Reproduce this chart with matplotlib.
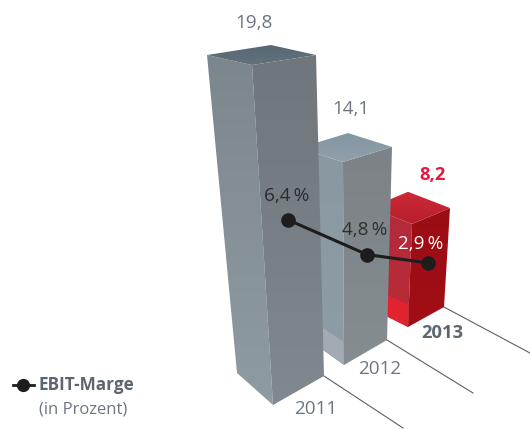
import numpy as np
import matplotlib
matplotlib.use("Agg")
import matplotlib.pyplot as plt
from matplotlib.colors import LinearSegmentedColormap
from matplotlib.patches import Polygon

# data
years = ["2011", "2012", "2013"]
umsatz = [19.8, 14.1, 8.2]
umsatz_labels = ["19,8", "14,1", "8,2"]
ebit_marge = [6.4, 4.8, 2.9]
ebit_labels = ["6,4\u2009%", "4,8\u2009%", "2,9\u2009%"]

# perspective geometry (pixel space): base corners and per-unit rise of each corner
base_left = [(237, 373), (305, 337), (368, 307)]
base_front = [(273, 405), (344, 365), (408, 327)]
base_right = [(324, 376), (387, 340), (444, 307)]
rise_left = [(-1.515, -16.06), (-0.426, -13.40), (0.244, -12.10)]
rise_front = [(-1.06, -17.17), (-0.071, -14.40), (0.488, -12.56)]
rise_right = [(-0.404, -16.21), (0.355, -13.69), (0.732, -12.07)]
line_base_y = [396.5, 352, 316]
line_unit = [27.6, 20.3, 18.3]
line_x = [288, 367, 428]

style = [
    dict(left=("#7c868d", "#8f9ba2"), right=("#6f767c", "#7f898f"), top=("#566673", "#63727d"), patch=None),
    dict(left=("#8a98a2", "#8e9ca6"), right=("#7c8286", "#858d92"), top=("#8596a3", "#8fa0ac"),
         patch=("#a2abb3", 0.113)),
    dict(left=("#b22a3b", "#bb2a38"), right=("#9b0d15", "#a10e15"), top=("#cc2a38", "#b81e2c"),
         patch=("#e3222f", 0.21)),
]

plt.rcParams["font.family"] = ["Open Sans", "DejaVu Sans"]
fig = plt.figure(figsize=(5.30, 4.29), dpi=100, facecolor="white")
ax = fig.add_axes([0, 0, 1, 1])
ax.set_xlim(0, 530)
ax.set_ylim(429, 0)
ax.axis("off")


def face(pts, c0, c1, z):
    pts = np.array(pts, float)
    x0, y0 = pts.min(axis=0)
    x1, y1 = pts.max(axis=0)
    cmap = LinearSegmentedColormap.from_list("f", [c0, c1])
    im = ax.imshow(np.linspace(0, 1, 64).reshape(-1, 1), cmap=cmap, extent=(x0, x1, y1, y0),
                   aspect="auto", zorder=z, interpolation="bilinear")
    poly = Polygon(pts, closed=True, transform=ax.transData, fc="none", ec="none")
    ax.add_patch(poly)
    im.set_clip_path(poly)


# floor lines
floor_dx = [79, 86, 86]
floor_dy = [52, 53, 46]
for i in range(3):
    bx, by = base_right[i]
    ax.plot([bx, bx + floor_dx[i]], [by, by + floor_dy[i]], color="#5c6166", lw=0.8, zorder=1)

# bars, back to front
for i in (2, 1, 0):
    z = 3 + (2 - i)
    v = umsatz[i]
    bl, bf, br = map(np.array, (base_left[i], base_front[i], base_right[i]))
    tl = bl + v * np.array(rise_left[i])
    tf = bf + v * np.array(rise_front[i])
    tr = br + v * np.array(rise_right[i])
    tb = tl + tr - tf
    s = style[i]
    face([tl, tf, bf, bl], *s["left"], z)
    if s["patch"]:
        c, frac = s["patch"]
        pl = bl + (tl - bl) * frac
        pf = bf + (tf - bf) * frac
        ax.add_patch(Polygon([pl, pf, bf, bl], closed=True, fc=c, ec="none", zorder=z))
    face([tf, tr, br, bf], *s["right"], z)
    face([tl, tb, tr, tf], *s["top"], z)

# EBIT line
line_y = [line_base_y[i] - ebit_marge[i] * line_unit[i] for i in range(3)]
ax.plot(line_x, line_y, color="#1f1c1e", lw=2.2, marker="o", ms=9.5, zorder=10, solid_capstyle="round")

# value labels
grey = "#6d7680"
fs = 13.6
val_pos = [(254, 23.5), (351, 109.5), (433, 175)]
for i in range(3):
    red = i == 2
    ax.text(*val_pos[i], umsatz_labels[i], ha="center", va="center", fontsize=fs if not red else 13.2,
            color="#e8173f" if red else grey, fontweight="bold" if red else "normal", zorder=11)

ebit_pos = [(287, 196), (365, 230), (421, 244)]
ebit_col = ["#2b2a2c", "#2f2e30", "white"]
for i in range(3):
    ax.text(*ebit_pos[i], ebit_labels[i], ha="center", va="center", fontsize=fs,
            color=ebit_col[i], zorder=11)

year_pos = [(316, 408.5), (380, 369.5), (442, 333.5)]
for i in range(3):
    bold = i == 2
    ax.text(*year_pos[i], years[i], ha="center", va="center", fontsize=fs if not bold else 13.2,
            color="#5c6670" if bold else grey, fontweight="bold" if bold else "normal", zorder=11)

# legend
ax.plot([13, 34], [385, 385], color="#1f1c1e", lw=2.0, zorder=10)
ax.plot([22.5], [385], color="#1f1c1e", marker="o", ms=8.5, zorder=10)
ax.text(39, 385.5, "EBIT-Marge", ha="left", va="center", fontsize=12.3, fontweight="bold", color="#5c6670")
ax.text(39, 409.5, "(in Prozent)", ha="left", va="center", fontsize=12.0, color=grey)

ax.set_xlim(0, 530)
ax.set_ylim(429, 0)
fig.savefig("out.png", dpi=100, facecolor="white")
